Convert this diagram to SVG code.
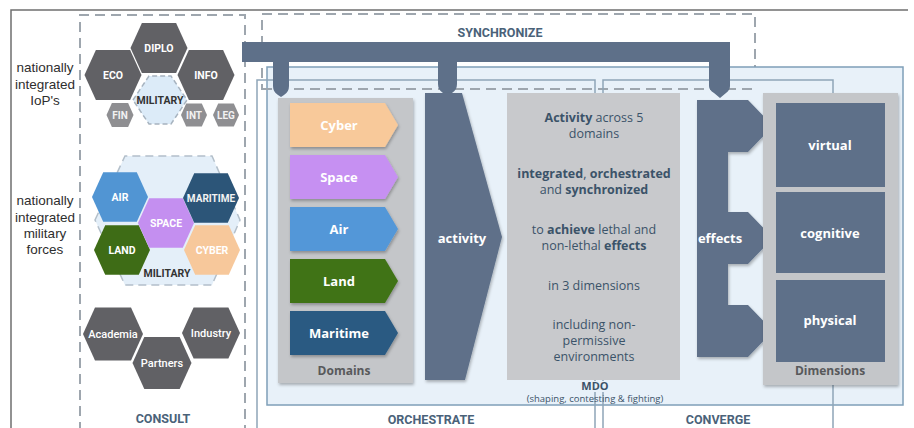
<svg xmlns="http://www.w3.org/2000/svg" width="914" height="428" viewBox="0 0 914 428">
  <style>
    .frame { fill: none; stroke: #6f6f6f; stroke-width: 1.5; }
    .dash { fill: none; stroke: #9ea6ae; stroke-width: 2; stroke-dasharray: 10 6; }
    .outline { fill: none; stroke: #8ea5b8; stroke-width: 1.5; }
    .slate { fill: #5e7089; }
    .panel { fill: #c4c6c9; }
    .hexd { fill: #616165; }
    .hexl { fill: #8f8f92; }
    .side { font-family: "Liberation Sans", Arial, sans-serif; font-size: 13.5px; fill: #2e2e2e; text-anchor: middle; }
    .head { font-family: Roboto, "Open Sans", sans-serif; font-size: 12.5px; font-weight: bold; fill: #4a6279; text-anchor: middle; }
    .hx { font-family: Roboto, "Open Sans", sans-serif; font-size: 10.5px; font-weight: bold; fill: #ffffff; text-anchor: middle; }
    .hxs { font-family: Roboto, "Open Sans", sans-serif; font-size: 10px; font-weight: bold; fill: #f2f2f2; text-anchor: middle; }
    .hxdark { font-family: Roboto, "Open Sans", sans-serif; font-size: 10.5px; font-weight: bold; fill: #333333; text-anchor: middle; }
    .hxp { font-family: Roboto, "Open Sans", sans-serif; font-size: 11px; font-weight: 500; fill: #ffffff; text-anchor: middle; }
    .lbl { font-family: "Open Sans", Roboto, sans-serif; font-size: 13px; font-weight: bold; fill: #ffffff; text-anchor: middle; }
    .cap { font-family: "Open Sans", Roboto, sans-serif; font-size: 12px; font-weight: bold; fill: #58595b; text-anchor: middle; }
    .mdo { font-family: "Open Sans", Roboto, sans-serif; font-size: 12.5px; fill: #3b5369; text-anchor: middle; }
    .mdo tspan.b { font-weight: bold; }
    .sub { font-family: "Open Sans", Roboto, sans-serif; font-size: 9.5px; fill: #3b5369; text-anchor: middle; }
  </style>
  <defs>
    <!-- unit hexagon, pointy left and right -->
    <polygon id="hex" points="-1,0 -0.6,-0.88 0.6,-0.88 1,0 0.6,0.88 -0.6,0.88"/>
    <filter id="shadow" x="-10%" y="-10%" width="130%" height="130%">
      <feDropShadow dx="1" dy="2" stdDeviation="1.5" flood-color="#000" flood-opacity="0.28"/>
    </filter>
  </defs>

  <rect width="914" height="428" fill="#ffffff"/>

  <!-- outer frame -->
  <path class="frame" d="M11,428 V10 H908"/>

  <!-- consult column -->
  <g id="consult">
    <path class="dash" d="M80,432 V15 H245 V432"/>
    <text class="head" x="163" y="423">CONSULT</text>
  </g>

  <!-- synchronize zone -->
  <g id="synchronize-zone">
    <rect class="dash" x="262" y="14" width="493" height="75"/>
    <text class="head" x="500" y="37">SYNCHRONIZE</text>
  </g>

  <!-- main light blue area -->
  <rect x="267" y="67" width="636" height="338" fill="#e8f1f9" stroke="#7f9fb8" stroke-width="1.5"/>
  <path class="dash" d="M262,89 H755" />

  <!-- orchestrate / converge outlines -->
  <g id="orchestrate">
    <path class="outline" d="M257,432 V80 H595 V432"/>
    <text class="head" x="431" y="424">ORCHESTRATE</text>
  </g>
  <g id="converge">
    <path class="outline" d="M603,432 V80 H833 V432"/>
    <text class="head" x="718" y="424">CONVERGE</text>
  </g>

  <!-- side captions -->
  <text class="side" x="45" y="72">nationally</text>
  <text class="side" x="45" y="88.5">integrated</text>
  <text class="side" x="45" y="105">IoP's</text>
  <text class="side" x="45" y="205">nationally</text>
  <text class="side" x="45" y="222">integrated</text>
  <text class="side" x="45" y="238">military</text>
  <text class="side" x="45" y="254">forces</text>

  <!-- instruments of power -->
  <g id="iop">
    <polygon points="133,100 149,76 171,76 187,100 171,124 149,124" fill="#dcebf8" stroke="#a7b3bf" stroke-width="1.5" stroke-dasharray="5 3"/>
    <use href="#hex" class="hexd" transform="translate(159,48) scale(28.5)"/>
    <use href="#hex" class="hexd" transform="translate(113,75) scale(28.5)"/>
    <use href="#hex" class="hexd" transform="translate(206,75) scale(28.5)"/>
    <use href="#hex" class="hexl" transform="translate(120,115) scale(13.5)"/>
    <use href="#hex" class="hexl" transform="translate(194,115) scale(13)"/>
    <use href="#hex" class="hexl" transform="translate(226,115) scale(13)"/>
    <text class="hx" x="159" y="52">DIPLO</text>
    <text class="hx" x="113" y="79">ECO</text>
    <text class="hx" x="206" y="79">INFO</text>
    <text class="hxdark" x="160" y="104">MILITARY</text>
    <text class="hxs" x="120" y="119">FIN</text>
    <text class="hxs" x="194" y="119">INT</text>
    <text class="hxs" x="226" y="119">LEG</text>
  </g>

  <!-- military forces -->
  <g id="forces">
    <polygon points="95,220 125,156 212,156 240,220 212,285 125,285" fill="#e4eff9" stroke="#b3bfca" stroke-width="1.5" stroke-dasharray="8 5"/>
    <use href="#hex" fill="#5195d3" transform="translate(120,197) scale(28)"/>
    <use href="#hex" fill="#3e6c16" transform="translate(122,250) scale(28)"/>
    <use href="#hex" fill="#c48ff0" transform="translate(166,223) scale(28)"/>
    <use href="#hex" fill="#2c5578" transform="translate(211,198) scale(28)"/>
    <use href="#hex" fill="#f7c89b" transform="translate(212,250) scale(28)"/>
    <text class="hx" x="120" y="201">AIR</text>
    <text class="hx" x="122" y="254">LAND</text>
    <text class="hx" x="166" y="227">SPACE</text>
    <text class="hxs" x="211" y="202">MARITIME</text>
    <text class="hx" x="212" y="254">CYBER</text>
    <text class="hxdark" x="167" y="277">MILITARY</text>
  </g>

  <!-- partners -->
  <g id="partners">
    <use href="#hex" class="hexd" transform="translate(113,334) scale(30)"/>
    <use href="#hex" class="hexd" transform="translate(211,333) scale(29)"/>
    <use href="#hex" class="hexd" transform="translate(162,363) scale(29.5)"/>
    <text class="hxp" x="113" y="338">Academia</text>
    <text class="hxp" x="211" y="337">Industry</text>
    <text class="hxp" x="162" y="367">Partners</text>
  </g>

  <!-- synchronize bar -->
  <g id="sync-bar">
    <path class="slate" d="M242,42 H730 V86 Q730,90 726,93 L720,98 L714,93 Q709,90 709,86 V62 H457 V84 Q457,90 452,93 L448,96 L443,93 Q438,90 438,84 V62 H289 V86 Q289,92 284,95 L281,97 L278,95 Q273,92 273,86 V62 H242 Z"/>
  </g>

  <!-- domains -->
  <g id="domains">
    <rect class="panel" x="278" y="98" width="135" height="285" filter="url(#shadow)"/>
    <g filter="url(#shadow)">
      <polygon points="290,103 385,103 398,125 385,147 290,147" fill="#f8c99a"/>
      <polygon points="290,155 385,155 398,177 385,199 290,199" fill="#c690f2"/>
      <polygon points="290,207 385,207 398,229 385,251 290,251" fill="#5297d8"/>
      <polygon points="290,259 385,259 398,281 385,303 290,303" fill="#3f7315"/>
      <polygon points="290,311 385,311 398,333 385,355 290,355" fill="#295a82"/>
    </g>
    <text class="lbl" x="339" y="130">Cyber</text>
    <text class="lbl" x="339" y="182">Space</text>
    <text class="lbl" x="339" y="234">Air</text>
    <text class="lbl" x="339" y="286">Land</text>
    <text class="lbl" x="339" y="338">Maritime</text>
    <text class="cap" x="344" y="375">Domains</text>
  </g>

  <!-- activity -->
  <g id="activity">
    <polygon class="slate" points="425,93 462,93 502,237 465,380 425,380" filter="url(#shadow)"/>
    <text class="lbl" x="462" y="243">activity</text>
  </g>

  <!-- MDO description -->
  <g id="mdo">
    <rect x="507" y="93" width="173" height="287" fill="#c8c9cc"/>
    <text class="mdo" x="594" y="122"><tspan class="b">Activity</tspan> across 5</text>
    <text class="mdo" x="594" y="138">domains</text>
    <text class="mdo" x="594" y="178"><tspan class="b">integrated</tspan>, <tspan class="b">orchestrated</tspan></text>
    <text class="mdo" x="594" y="194">and <tspan class="b">synchronized</tspan></text>
    <text class="mdo" x="594" y="234">to <tspan class="b">achieve</tspan> lethal and</text>
    <text class="mdo" x="594" y="250">non-lethal <tspan class="b">effects</tspan></text>
    <text class="mdo" x="594" y="290">in 3 dimensions</text>
    <text class="mdo" x="594" y="329">including non-</text>
    <text class="mdo" x="594" y="345">permissive</text>
    <text class="mdo" x="594" y="361">environments</text>
    <rect x="560" y="381" width="70" height="11" fill="#e8f1f9"/>
    <text class="mdo" x="595" y="390" style="font-weight:bold;font-size:11px">MDO</text>
    <text class="sub" x="595" y="402">(shaping, contesting &amp; fighting)</text>
  </g>

  <!-- effects -->
  <g id="effects">
    <polygon class="slate" filter="url(#shadow)" points="697,100 748,100 773,126 748,152 728,152 728,212 748,212 773,238 748,264 728,264 728,305 748,305 773,331 748,357 697,357"/>
    <text class="lbl" x="720" y="243">effects</text>
  </g>

  <!-- dimensions -->
  <g id="dimensions">
    <rect class="panel" x="763" y="93" width="135" height="292" filter="url(#shadow)"/>
    <rect class="slate" x="776" y="103" width="109" height="84"/>
    <rect class="slate" x="776" y="192" width="109" height="81"/>
    <rect class="slate" x="776" y="280" width="109" height="82"/>
    <text class="lbl" x="830" y="150">virtual</text>
    <text class="lbl" x="830" y="238">cognitive</text>
    <text class="lbl" x="830" y="325">physical</text>
    <text class="cap" x="830" y="375">Dimensions</text>
  </g>
</svg>
